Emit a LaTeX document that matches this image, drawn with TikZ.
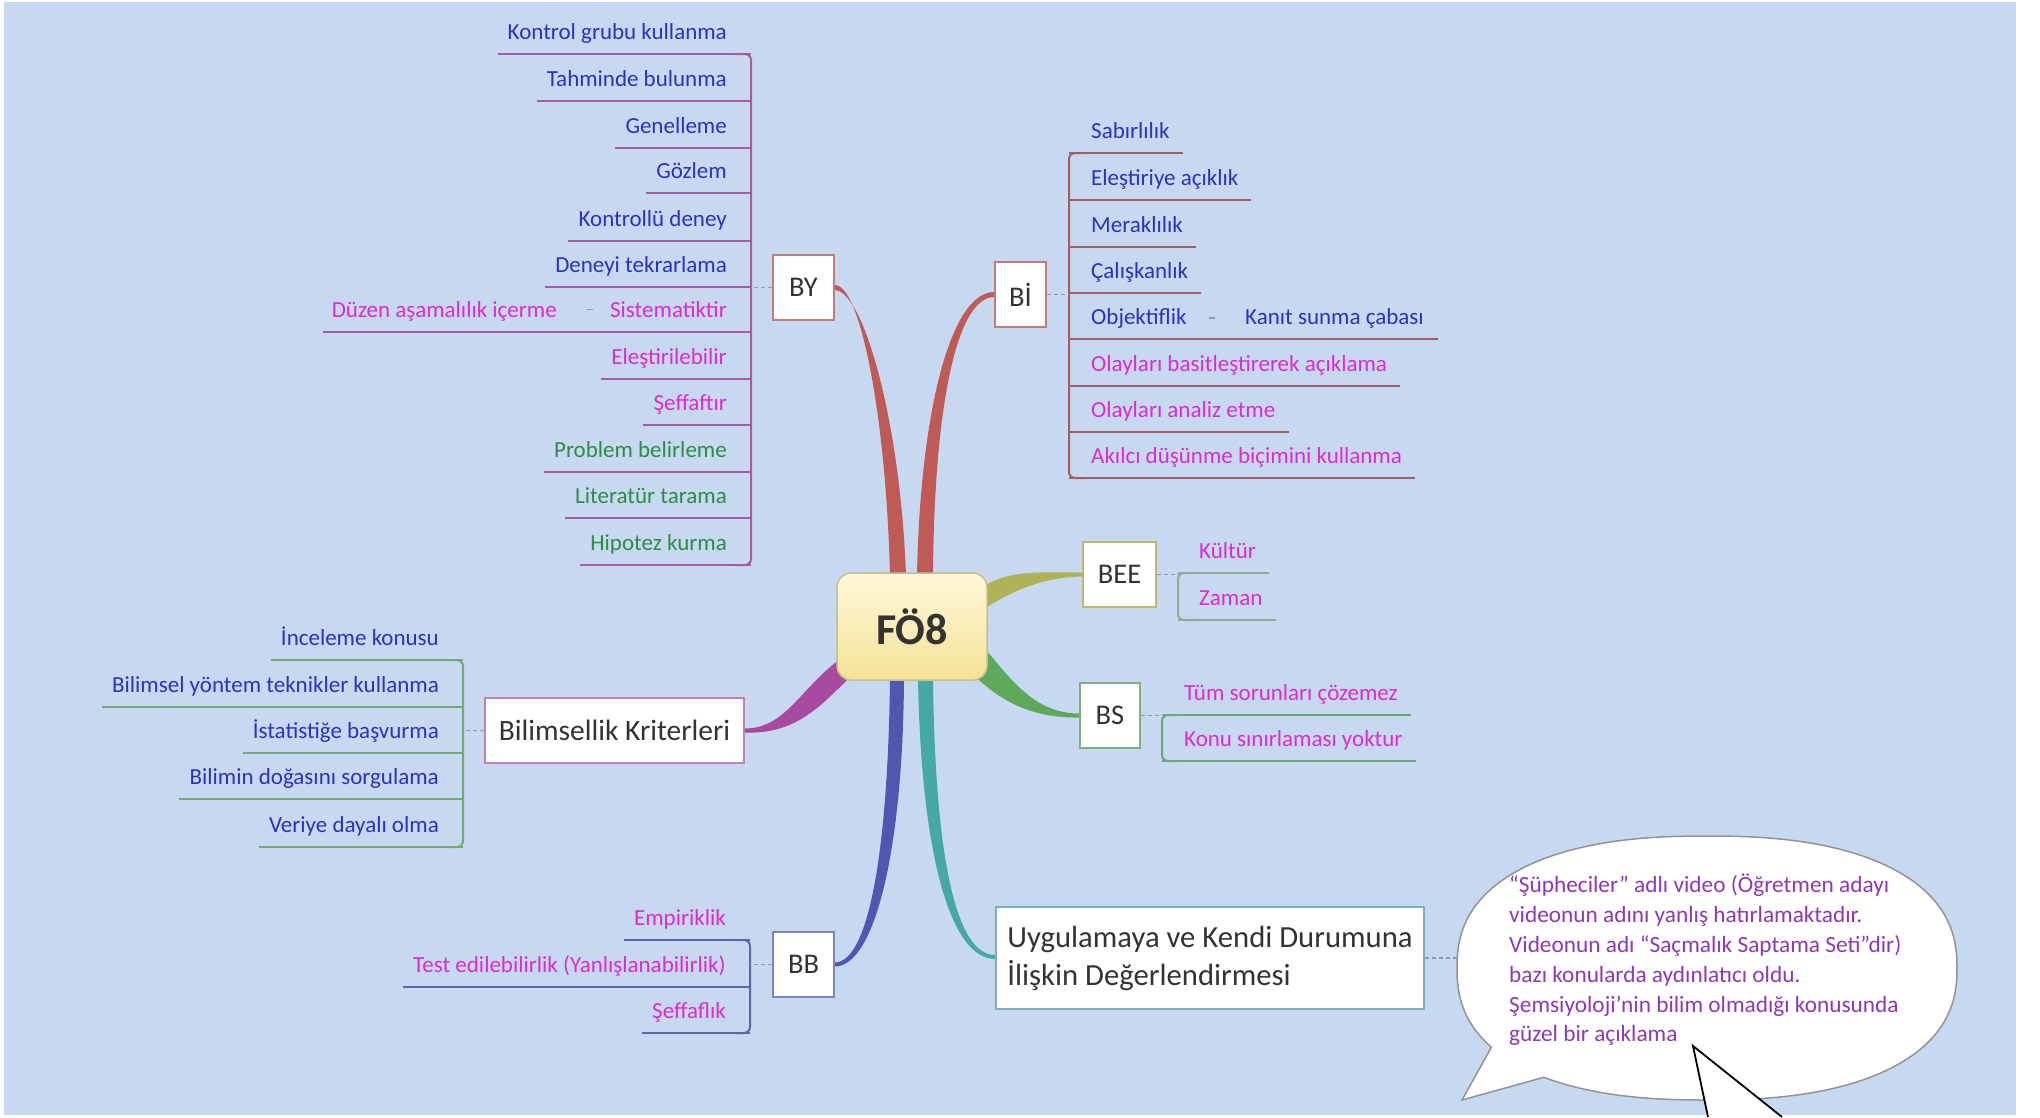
\documentclass[tikz,border=0pt]{standalone}
\usepackage{fontspec}
\setmainfont{Carlito}
\usetikzlibrary{calc}

\definecolor{bgblue}{HTML}{C7D9F1}
\definecolor{cblue}{HTML}{2F2FC0}
\definecolor{cmag}{HTML}{DD2AD2}
\definecolor{cgreen}{HTML}{2E8B45}
\definecolor{cpurple}{HTML}{8E38B4}
\definecolor{cdark}{HTML}{333333}
% branch colours
\definecolor{brRed}{HTML}{BE5B57}
\definecolor{brOlive}{HTML}{B0B25A}
\definecolor{brGreen}{HTML}{5EA85A}
\definecolor{brMag}{HTML}{A84AA0}
\definecolor{brBlue}{HTML}{5256AE}
\definecolor{brTeal}{HTML}{45A8A2}
% group line colours
\definecolor{lnBY}{HTML}{A95AA0}
\definecolor{lnBI}{HTML}{A45E62}
\definecolor{lnBEE}{HTML}{98A890}
\definecolor{lnBS}{HTML}{6CA778}
\definecolor{lnBK}{HTML}{72A872}
\definecolor{lnBB}{HTML}{5C64AC}
% box borders
\definecolor{bxRed}{HTML}{C47A7A}
\definecolor{bxOlive}{HTML}{B8B870}
\definecolor{bxGreen}{HTML}{7DB07D}
\definecolor{bxMag}{HTML}{C080B8}
\definecolor{bxBlue}{HTML}{7F84C0}
\definecolor{bxTeal}{HTML}{7BB0B8}
\definecolor{foTop}{HTML}{FFF8DA}
\definecolor{foBot}{HTML}{F4E296}
\definecolor{foLine}{HTML}{C9BC8E}
\definecolor{dashgray}{HTML}{8A9BB0}

% leaf on the left of its group: text ends at #2, underline at y=#3 runs to the bar at x=#4
\newcommand\leafL[7]{%
  \node[leaf,text=#5,anchor=base east] (#1) at (#2,#3-15) {#7};
  \draw[#6] ($(#1.base west)+(-10,15)$) -- (#4,#3);}
% leaf on the right of its group: text starts at #2
\newcommand\leafR[7]{%
  \node[leaf,text=#5,anchor=base west] (#1) at (#2,#3-15) {#7};
  \draw[#6] (#4,#3) -- ($(#1.base east)+(13,15)$);}

\begin{document}
\begin{tikzpicture}[x=1pt,y=-1pt,
  leaf/.style={inner sep=0pt,font=\fontsize{23}{27}\selectfont},
  topic/.style={draw,fill=white,line width=1.5pt,inner sep=0pt,
    minimum height=65,text=cdark,font=\fontsize{28.5}{30}\selectfont},
  bigtopic/.style={topic,align=left,font=\fontsize{30.7}{38}\selectfont},
  conn/.style={draw=dashgray,line width=1.2pt,dash pattern=on 4pt off 3pt},
  minor/.style={draw=dashgray,line width=1.2pt},
  bylin/.style={draw=lnBY,line width=2pt},
  bilin/.style={draw=lnBI,line width=2pt},
  beelin/.style={draw=lnBEE,line width=2pt},
  bslin/.style={draw=lnBS,line width=2pt},
  bklin/.style={draw=lnBK,line width=2pt},
  bblin/.style={draw=lnBB,line width=2pt}]

\useasboundingbox (0,0) rectangle (2040,1117);
\fill[white] (0,0) rectangle (2040,1117);
\fill[bgblue] (4,2) rectangle (2016,1115);

% ---------- topic boxes (placed first so the branches can refer to them)
\path
  (912,626.5)   node[inner sep=0pt,minimum width=150,minimum height=107] (fo) {}
  (803.5,287.5) node[topic,draw=none,fill=none,minimum width=61] (by) {}
  (1020.5,294.5) node[topic,draw=none,fill=none,minimum width=51] (bi) {}
  (1119.5,574.5) node[topic,draw=none,fill=none,minimum width=73] (bee) {}
  (1110,715.5)  node[topic,draw=none,fill=none,minimum width=60] (bs) {}
  (614.5,730.5) node[topic,draw=none,fill=none,minimum width=259] (bk) {}
  (803.5,964.5) node[topic,draw=none,fill=none,minimum width=61] (bb) {}
  (1210,958)    node[topic,draw=none,fill=none,minimum width=428,minimum height=102] (uy) {};

% ---------- tapered branches from the central topic
\fill[brRed] ($(fo.north)+(-22,2)$) .. controls ($(fo.north)+(-26,-155)$) and ($(by.east)+(26,-2.5)$) .. ($(by.east)+(0,-2.5)$)
  -- ($(by.east)+(0,2.5)$) .. controls ($(by.east)+(28,3)$) and ($(fo.north)+(-12,-155)$) .. ($(fo.north)+(-6,2)$) -- cycle;
\fill[brRed] ($(fo.north)+(5,2)$) .. controls ($(fo.north)+(8,-155)$) and ($(bi.west)+(-45,-2.5)$) .. ($(bi.west)+(0,-2.5)$)
  -- ($(bi.west)+(0,2.5)$) .. controls ($(bi.west)+(-40,3)$) and ($(fo.north)+(22,-155)$) .. ($(fo.north)+(21,2)$) -- cycle;
\fill[brOlive] ($(fo.east)+(-4,-40)$) .. controls ($(fo.east)+(23,-57)$) and ($(bee.west)+(-43,-2)$) .. ($(bee.west)+(0,-2)$)
  -- ($(bee.west)+(0,2)$) .. controls ($(bee.west)+(-38,2.5)$) and ($(fo.east)+(25,-36)$) .. ($(fo.east)+(-4,-17)$) -- cycle;
\fill[brGreen] ($(fo.east)+(-4,20)$) .. controls ($(fo.east)+(23,52)$) and ($(bs.west)+(-45,-2)$) .. ($(bs.west)+(0,-2)$)
  -- ($(bs.west)+(0,2)$) .. controls ($(bs.west)+(-50,3)$) and ($(fo.east)+(12,72)$) .. ($(fo.east)+(-10,52)$) -- cycle;
\fill[brMag] ($(fo.west)+(4,32)$) .. controls ($(fo.west)+(-37,62)$) and ($(bk.east)+(41,-2)$) .. ($(bk.east)+(0,-2)$)
  -- ($(bk.east)+(0,2)$) .. controls ($(bk.east)+(51,4)$) and ($(fo.west)+(-17,80)$) .. ($(fo.west)+(14,50)$) -- cycle;
\fill[brBlue] ($(fo.south)+(-22,-2)$) .. controls ($(fo.south)+(-24,170)$) and ($(bb.east)+(34,-2)$) .. ($(bb.east)+(0,-2)$)
  -- ($(bb.east)+(0,2)$) .. controls ($(bb.east)+(40,2)$) and ($(fo.south)+(-9,170)$) .. ($(fo.south)+(-8,-2)$) -- cycle;
\fill[brTeal] ($(fo.south)+(6,-2)$) .. controls ($(fo.south)+(9,170)$) and ($(uy.west)+(-46,1)$) .. ($(uy.west)+(0,1)$)
  -- ($(uy.west)+(0,-3)$) .. controls ($(uy.west)+(-41,-3)$) and ($(fo.south)+(23,170)$) .. ($(fo.south)+(21,-2)$) -- cycle;

% ---------- visible topic boxes
\node[draw=foLine,line width=1.5pt,rounded corners=14pt,top color=foTop,bottom color=foBot,
  minimum width=150,minimum height=107,inner sep=0pt,text=cdark,
  font=\bfseries\fontsize{44}{44}\selectfont] at (fo.center) {FÖ8};
\node[topic,draw=bxRed,minimum width=61] at (by.center) {BY};
\node[topic,draw=bxRed,minimum width=51] at (bi.center) {Bİ};
\node[topic,draw=bxOlive,minimum width=73] at (bee.center) {BEE};
\node[topic,draw=bxGreen,minimum width=60] at (bs.center) {BS};
\node[topic,draw=bxMag,minimum width=259,font=\fontsize{29.5}{37}\selectfont] at (bk.center) {Bilimsellik Kriterleri};
\node[topic,draw=bxBlue,minimum width=61] at (bb.center) {BB};
\node[bigtopic,draw=bxTeal,minimum width=428,minimum height=102] at (uy.center)
  {Uygulamaya ve Kendi Durumuna\\İlişkin Değerlendirmesi};

% ---------- BY group
\draw[bylin,rounded corners=6pt] (735,54) -- (751,54) -- (751,565) -- (735,565);
\leafL{l1}{727}{54}{751}{cblue}{bylin}{Kontrol grubu kullanma}
\leafL{l2}{727}{101}{751}{cblue}{bylin}{Tahminde bulunma}
\leafL{l3}{727}{148}{751}{cblue}{bylin}{Genelleme}
\leafL{l4}{727}{193}{751}{cblue}{bylin}{Gözlem}
\leafL{l5}{727}{241}{751}{cblue}{bylin}{Kontrollü deney}
\leafL{l6}{727}{287}{751}{cblue}{bylin}{Deneyi tekrarlama}
\node[leaf,text=cmag,anchor=base east] (sist) at (727,317) {Sistematiktir};
\node[leaf,text=cmag,anchor=base east] (duzen) at (557,317) {Düzen aşamalılık içerme};
\draw[bylin] ($(duzen.base west)+(-9,15)$) -- (751,332);
\draw[minor] ($(duzen.east)!0.62!(sist.west)$) ++(-3,0) -- ++(6,0);
\leafL{l8}{727}{379}{751}{cmag}{bylin}{Eleştirilebilir}
\leafL{l9}{727}{425}{751}{cmag}{bylin}{Şeffaftır}
\leafL{l10}{727}{472}{751}{cgreen}{bylin}{Problem belirleme}
\leafL{l11}{727}{518}{751}{cgreen}{bylin}{Literatür tarama}
\leafL{l12}{727}{565}{751}{cgreen}{bylin}{Hipotez kurma}
\coordinate (byv) at (751,287.5);
\draw[conn] (by.west) -- (byv);

% ---------- Bİ group
\draw[bilin,rounded corners=6pt] (1085,153) -- (1069,153) -- (1069,478) -- (1085,478);
\leafR{r1}{1091}{153}{1069}{cblue}{bilin}{Sabırlılık}
\leafR{r2}{1091}{200}{1069}{cblue}{bilin}{Eleştiriye açıklık}
\leafR{r3}{1091}{247}{1069}{cblue}{bilin}{Meraklılık}
\leafR{r4}{1091}{293}{1069}{cblue}{bilin}{Çalışkanlık}
\node[leaf,text=cblue,anchor=base west] (obj) at (1091,324) {Objektiflik};
\node[leaf,text=cblue,anchor=base west] (kanit) at (1245,324) {Kanıt sunma çabası};
\draw[bilin] (1069,339) -- ($(kanit.base east)+(14,15)$);
\draw[minor] ($(obj.east)!0.43!(kanit.west)$) ++(-3,0) -- ++(6,0);
\leafR{r6}{1091}{386}{1069}{cmag}{bilin}{Olayları basitleştirerek açıklama}
\leafR{r7}{1091}{432}{1069}{cmag}{bilin}{Olayları analiz etme}
\leafR{r8}{1091}{478}{1069}{cmag}{bilin}{Akılcı düşünme biçimini kullanma}
\coordinate (biv) at (1069,294.5);
\draw[conn] (bi.east) -- (biv);

% ---------- BEE group
\draw[beelin,rounded corners=6pt] (1194,573) -- (1178,573) -- (1178,620) -- (1194,620);
\leafR{e1}{1199}{573}{1178}{cmag}{beelin}{Kültür}
\leafR{e2}{1199}{620}{1178}{cmag}{beelin}{Zaman}
\coordinate (beev) at (1178,574.5);
\draw[conn] (bee.east) -- (beev);

% ---------- BS group
\draw[bslin,rounded corners=6pt] (1178,715) -- (1162,715) -- (1162,761) -- (1178,761);
\leafR{s1}{1184}{715}{1162}{cmag}{bslin}{Tüm sorunları çözemez}
\leafR{s2}{1184}{761}{1162}{cmag}{bslin}{Konu sınırlaması yoktur}
\coordinate (bsv) at (1162,715.5);
\draw[conn] (bs.east) -- (bsv);

% ---------- Bilimsellik Kriterleri group
\draw[bklin,rounded corners=6pt] (447,660) -- (463,660) -- (463,847) -- (447,847);
\leafL{k1}{439}{660}{463}{cblue}{bklin}{İnceleme konusu}
\leafL{k2}{439}{707}{463}{cblue}{bklin}{Bilimsel yöntem teknikler kullanma}
\leafL{k3}{439}{753}{463}{cblue}{bklin}{İstatistiğe başvurma}
\leafL{k4}{439}{799}{463}{cblue}{bklin}{Bilimin doğasını sorgulama}
\leafL{k5}{439}{847}{463}{cblue}{bklin}{Veriye dayalı olma}
\coordinate (bkv) at (463,730.5);
\draw[conn] (bk.west) -- (bkv);

% ---------- BB group
\draw[bblin,rounded corners=6pt] (734,940) -- (750,940) -- (750,1033) -- (734,1033);
\leafL{b1}{726}{940}{750}{cmag}{bblin}{Empiriklik}
\leafL{b2}{726}{987}{750}{cmag}{bblin}{Test edilebilirlik (Yanlışlanabilirlik)}
\leafL{b3}{726}{1033}{750}{cmag}{bblin}{Şeffaflık}
\coordinate (bbv) at (750,964.5);
\draw[conn] (bb.west) -- (bbv);

% ---------- speech bubble with the note (slightly squared oval plus tail)
\filldraw[fill=white,draw=gray!85,line width=1.5pt]
  plot[domain=147:487,samples=180,variable=\t]
    ({1707+250*cos(\t)*max(abs(cos(\t)),0.001)^(-0.16)},
     {968+132*sin(\t)*max(abs(sin(\t)),0.001)^(-0.16)})
  -- (1462,1100) -- cycle;
\coordinate (bubl) at (1459,958);
\draw[conn] (uy.east) -- (bubl);
\coordinate (ptr) at (1693,1046);
\coordinate (ptrA) at (1708,1117);
\coordinate (ptrB) at (1782,1117);
\fill[white] (ptr) -- (ptrA) -- (ptrB) -- cycle;
\draw[black,line width=1.8pt] (ptrA) -- (ptr) -- (ptrB);
\node[inner sep=0pt,anchor=north west,align=left,text=cpurple,
  font=\fontsize{23.3}{29.8}\selectfont] (note) at (1509,874)
  {“Şüpheciler” adlı video (Öğretmen adayı\\
   videonun adını yanlış hatırlamaktadır.\\
   Videonun adı “Saçmalık Saptama Seti”dir)\\
   bazı konularda aydınlatıcı oldu.\\
   Şemsiyoloji’nin bilim olmadığı konusunda\\
   güzel bir açıklama};

\end{tikzpicture}
\end{document}
